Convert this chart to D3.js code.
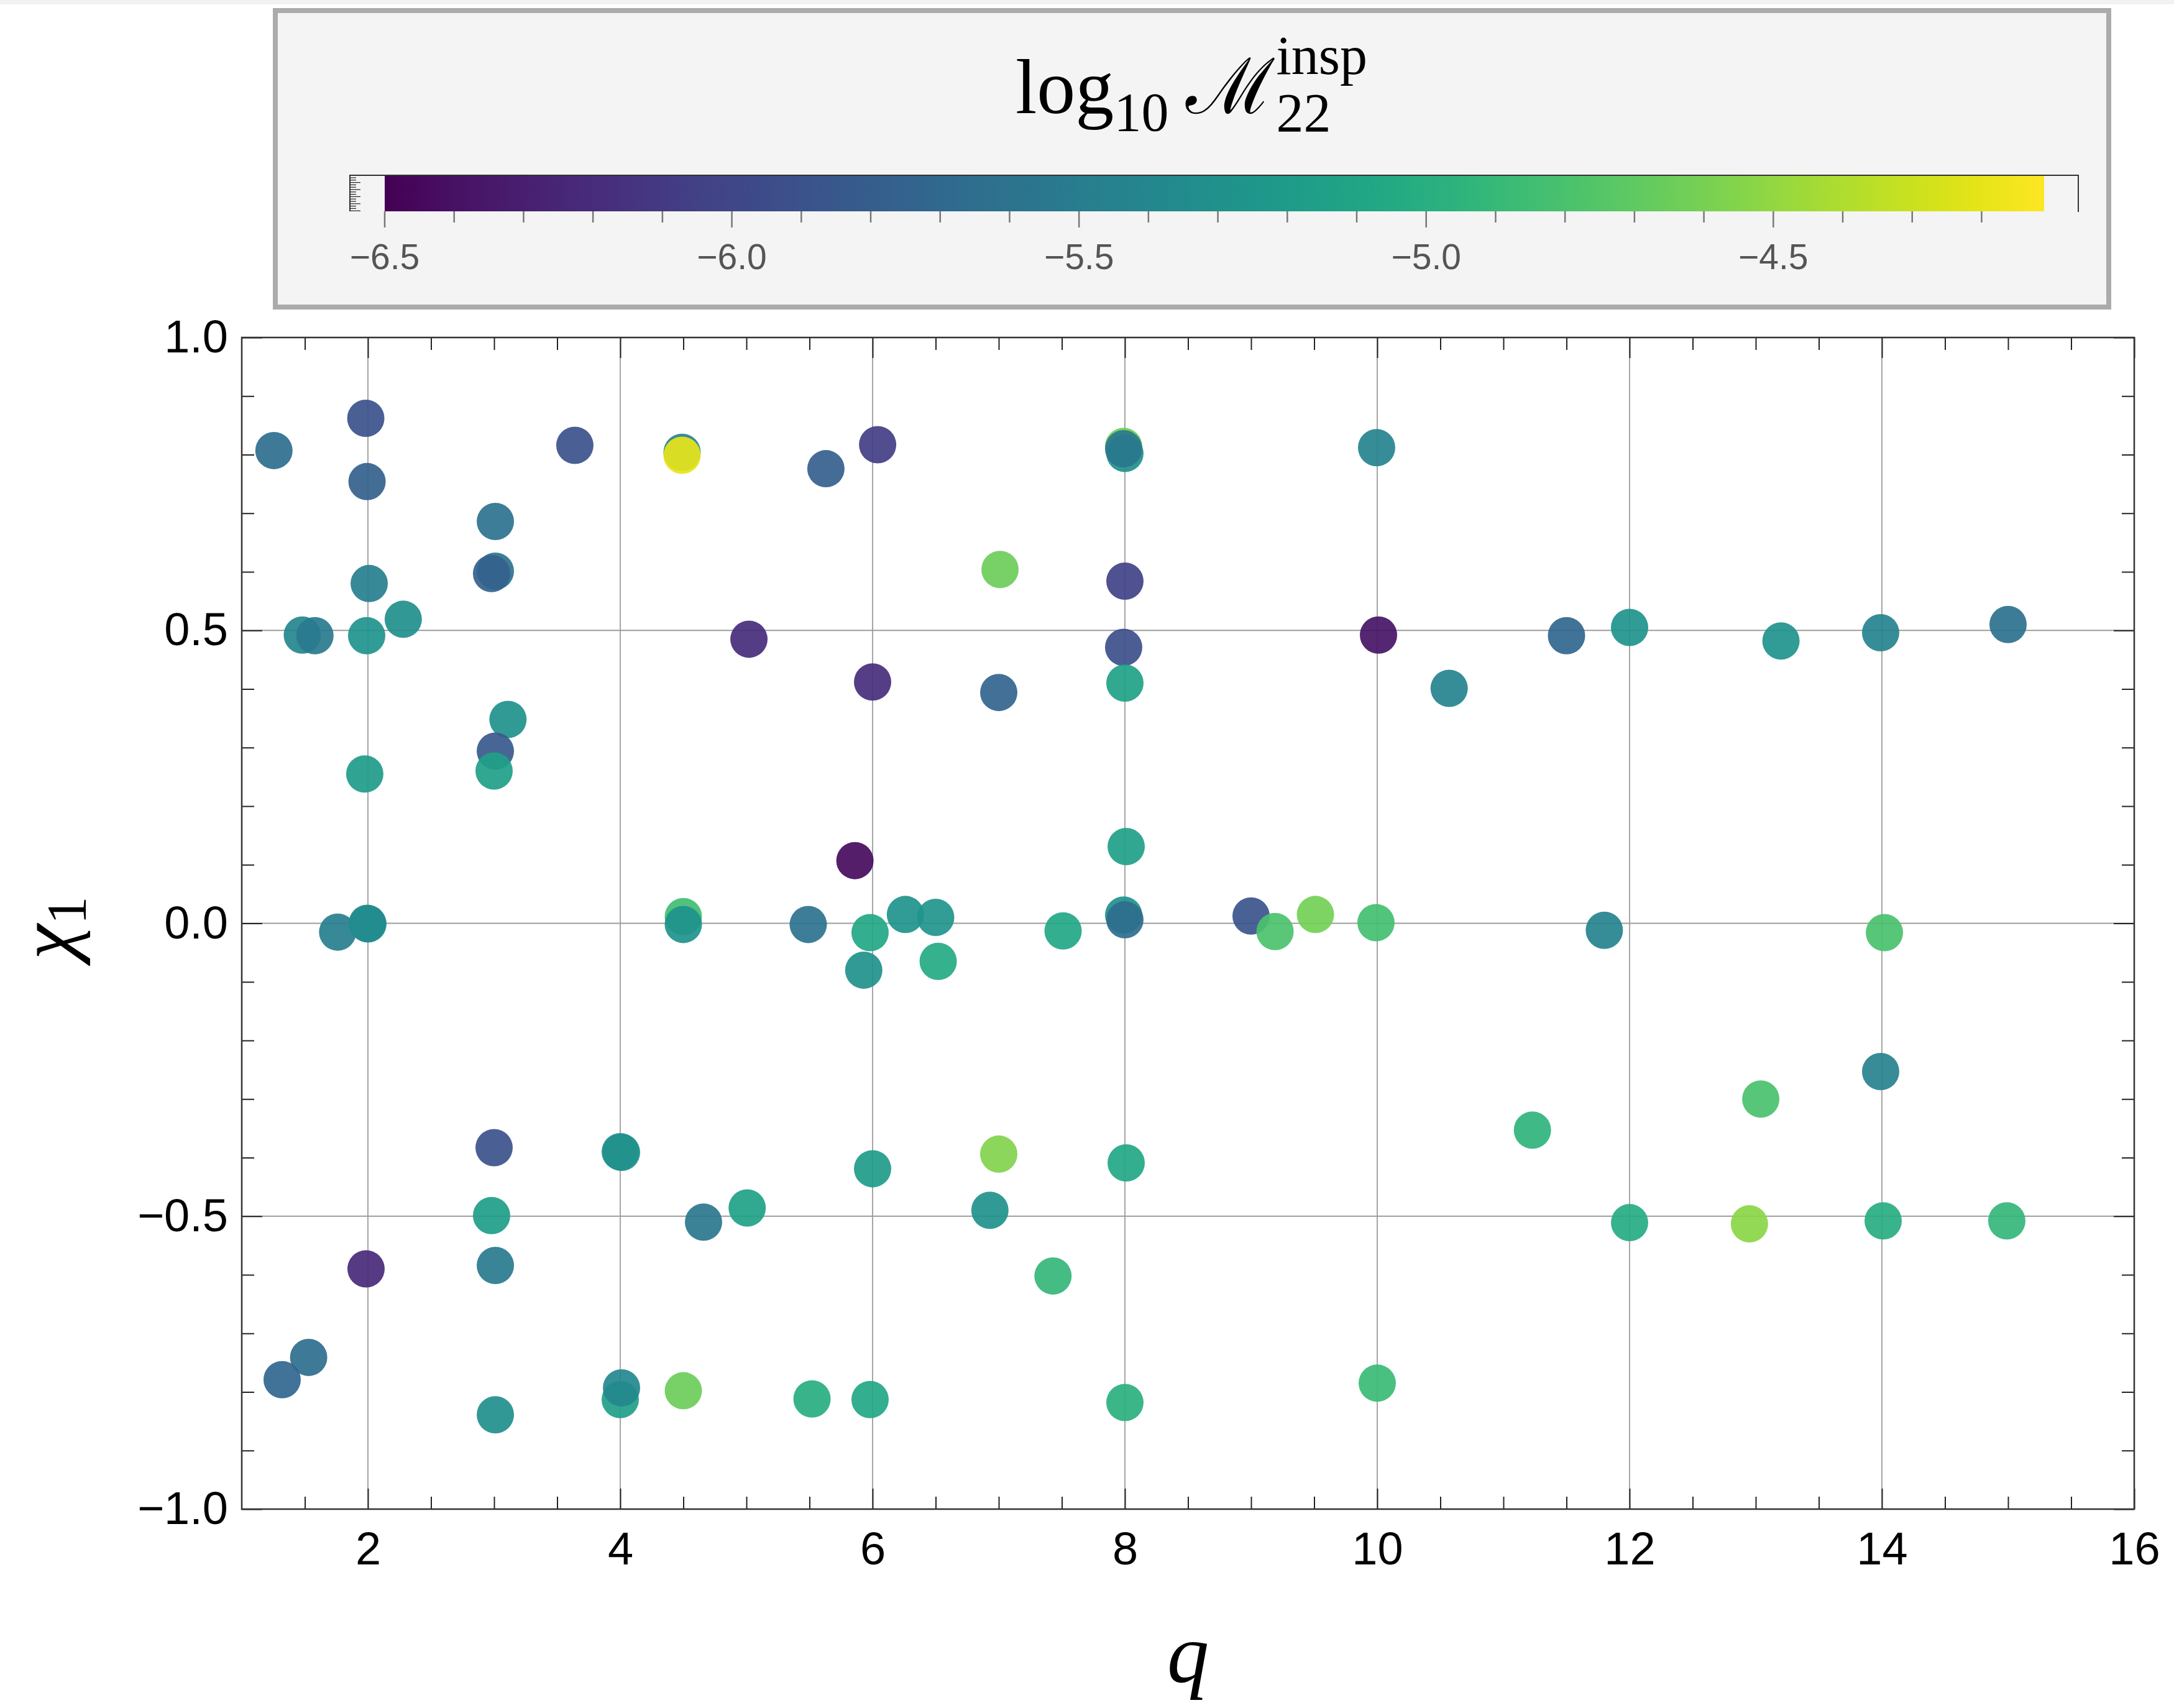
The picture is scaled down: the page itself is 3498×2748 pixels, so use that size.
<!DOCTYPE html>
<html>
<head>
<meta charset="utf-8">
<script src="https://cdn.jsdelivr.net/npm/d3@7"></script>
<style>
  body { margin: 0; background: #fff; }
  svg { display: block; }
</style>
</head>
<body>
<script>
// mass ratio q, spin chi_1 and log10 of the inspiral mismatch
const qValues = [
  1.255, 1.983, 1.993, 3.64, 4.49, 4.49, 5.63, 6.04, 7.99, 8.0, 7.99, 9.995,
  3.01, 3.01, 2.98, 2.01, 1.48, 1.58, 1.99, 2.28, 7.01, 8.0, 5.02, 10.01,
  11.5, 12.0, 13.2, 13.99, 15.0, 6.0, 7.0, 7.99, 8.0, 10.57, 3.11, 3.01,
  3.0, 1.975, 5.86, 8.01, 1.76, 1.995, 2.0, 4.5, 4.5, 5.49, 5.98, 6.26,
  6.5, 5.93, 6.52, 7.51, 7.99, 8.0, 9.0, 9.19, 9.51, 9.99, 11.8, 14.02,
  13.99, 13.04, 11.23, 3.0, 4.0, 4.01, 6.0, 7.0, 8.01, 2.98, 4.66, 5.006,
  6.93, 12.0, 12.95, 14.01, 14.99, 1.985, 3.01, 7.43, 1.53, 1.32, 4.0, 4.01,
  4.5, 3.01, 5.52, 5.98, 8.0, 10.0
];
const chiValues = [
  0.807, 0.862, 0.754, 0.816, 0.804, 0.799, 0.776, 0.817, 0.814, 0.802, 0.810, 0.812,
  0.686, 0.601, 0.597, 0.580, 0.492, 0.491, 0.491, 0.519, 0.604, 0.584, 0.485, 0.492,
  0.491, 0.505, 0.482, 0.496, 0.510, 0.412, 0.394, 0.471, 0.410, 0.401, 0.348, 0.294,
  0.260, 0.255, 0.107, 0.131, -0.015, 0.0, -0.001, 0.0115, -0.002, -0.002, -0.016, 0.015,
  0.010, -0.080, -0.065, -0.013, 0.014, 0.006, 0.0125, -0.014, 0.015, 0.001, -0.012, -0.016,
  -0.253, -0.300, -0.353, -0.383, -0.390, -0.391, -0.419, -0.394, -0.409, -0.499, -0.510, -0.486,
  -0.490, -0.511, -0.513, -0.508, -0.508, -0.590, -0.584, -0.602, -0.741, -0.779, -0.813, -0.793,
  -0.798, -0.839, -0.812, -0.813, -0.818, -0.785
];
const logM = [
  -5.65, -5.91, -5.77, -5.91, -5.45, -4.20, -5.79, -6.07, -4.65, -5.32, -5.55, -5.43,
  -5.60, -5.60, -5.76, -5.48, -5.40, -5.52, -5.27, -5.32, -4.65, -6.03, -6.20, -6.38,
  -5.72, -5.27, -5.27, -5.43, -5.62, -6.19, -5.74, -5.93, -5.13, -5.43, -5.30, -5.84,
  -5.15, -5.20, -6.43, -5.15, -5.48, -5.36, -5.36, -4.84, -5.27, -5.60, -5.08, -5.27,
  -5.25, -5.30, -5.05, -5.08, -5.30, -5.65, -5.88, -4.79, -4.62, -4.82, -5.43, -4.80,
  -5.45, -4.80, -4.95, -5.90, -5.35, -5.30, -5.20, -4.56, -5.08, -5.18, -5.55, -5.13,
  -5.30, -5.03, -4.53, -5.01, -4.92, -6.22, -5.52, -4.92, -5.65, -5.72, -5.15, -5.38,
  -4.65, -5.32, -5.00, -5.08, -4.98, -4.87
];

const xTicks = [2, 4, 6, 8, 10, 12, 14, 16];
const yTicks = [-1, -0.5, 0, 0.5, 1];
const cbTicks = [-6.5, -6.0, -5.5, -5.0, -4.5];
const cbDomain = [-6.5, -4.11];

const width = 3498, height = 2748;
const plot = { left: 389, right: 3434, top: 543, bottom: 2428 };

const svg = d3.select('body')
  .append('svg')
  .attr('width', width)
  .attr('height', height);

svg.append('rect')
  .attr('width', width).attr('height', 7)
  .attr('fill', '#f2f2f2');

const x = d3.scaleLinear().domain([1, 16]).range([plot.left, plot.right]);
const y = d3.scaleLinear().domain([-1, 1]).range([plot.bottom, plot.top]);
const color = d3.scaleSequential(d3.interpolateViridis).domain(cbDomain);

const xMinor = d3.range(3, 32).map(i => i / 2).filter(v => v % 2 !== 0);
const yMinor = d3.range(-9, 10).map(i => i / 10).filter(v => Math.abs(v * 2 - Math.round(v * 2)) > 1e-6);

// grid
svg.append('g').selectAll('line')
  .data(xTicks.filter(d => d < 16))
  .enter().append('line')
  .attr('x1', d => x(d)).attr('x2', d => x(d))
  .attr('y1', plot.top).attr('y2', plot.bottom)
  .attr('stroke', '#9c9c9c').attr('stroke-width', 1.8);

svg.append('g').selectAll('line')
  .data([-0.5, 0, 0.5])
  .enter().append('line')
  .attr('y1', d => y(d)).attr('y2', d => y(d))
  .attr('x1', plot.left).attr('x2', plot.right)
  .attr('stroke', '#9c9c9c').attr('stroke-width', 1.8);

// axes, ticks pointing inside on all four sides
function styleAxis(g) {
  g.select('.domain').remove();
  g.selectAll('.tick line').attr('stroke', '#222').attr('stroke-width', 2);
  g.selectAll('.tick text')
    .attr('fill', '#000')
    .style('font-family', '"Liberation Sans", Arial, sans-serif')
    .style('font-size', '74px');
}

const fmt = d3.format('.1f');

svg.append('g')
  .attr('transform', `translate(0, ${plot.bottom})`)
  .call(d3.axisBottom(x).tickValues(xTicks).tickSize(-33).tickPadding(36).tickFormat(d3.format('d')))
  .call(styleAxis);
svg.append('g')
  .attr('transform', `translate(0, ${plot.bottom})`)
  .call(d3.axisBottom(x).tickValues(xMinor).tickSize(-20).tickFormat(''))
  .call(styleAxis);
svg.append('g')
  .attr('transform', `translate(0, ${plot.top})`)
  .call(d3.axisTop(x).tickValues(xTicks).tickSize(-33).tickFormat(''))
  .call(styleAxis);
svg.append('g')
  .attr('transform', `translate(0, ${plot.top})`)
  .call(d3.axisTop(x).tickValues(xMinor).tickSize(-20).tickFormat(''))
  .call(styleAxis);

svg.append('g')
  .attr('transform', `translate(${plot.left}, 0)`)
  .call(d3.axisLeft(y).tickValues(yTicks).tickSize(-33).tickPadding(22).tickFormat(fmt))
  .call(styleAxis);
svg.append('g')
  .attr('transform', `translate(${plot.left}, 0)`)
  .call(d3.axisLeft(y).tickValues(yMinor).tickSize(-20).tickFormat(''))
  .call(styleAxis);
svg.append('g')
  .attr('transform', `translate(${plot.right}, 0)`)
  .call(d3.axisRight(y).tickValues(yTicks).tickSize(-33).tickFormat(''))
  .call(styleAxis);
svg.append('g')
  .attr('transform', `translate(${plot.right}, 0)`)
  .call(d3.axisRight(y).tickValues(yMinor).tickSize(-20).tickFormat(''))
  .call(styleAxis);

svg.append('rect')
  .attr('x', plot.left).attr('y', plot.top)
  .attr('width', plot.right - plot.left).attr('height', plot.bottom - plot.top)
  .attr('fill', 'none').attr('stroke', '#333').attr('stroke-width', 2.5);

// points
svg.append('g').selectAll('circle')
  .data(qValues.map((q, i) => ({ q, chi: chiValues[i], m: logM[i] })))
  .enter().append('circle')
  .attr('cx', d => x(d.q))
  .attr('cy', d => y(d.chi))
  .attr('r', 30)
  .attr('fill', d => color(d.m))
  .attr('fill-opacity', 0.92);

// axis labels
svg.append('text')
  .attr('x', (plot.left + plot.right) / 2).attr('y', 2706)
  .attr('text-anchor', 'middle')
  .style('font-family', '"Liberation Serif", "Times New Roman", serif')
  .style('font-style', 'italic')
  .style('font-size', '135px')
  .text('q');

const yLab = svg.append('text')
  .attr('transform', 'translate(118, 1493) rotate(-90)')
  .attr('text-anchor', 'middle')
  .style('font-family', '"Liberation Serif", "Times New Roman", serif')
  .style('font-size', '128px');
yLab.append('tspan').style('font-style', 'italic').text('χ');
yLab.append('tspan').attr('dy', 20).style('font-size', '90px').text('1');

// colour bar legend
const legend = svg.append('g');
legend.append('rect')
  .attr('x', 443).attr('y', 17)
  .attr('width', 2950).attr('height', 477)
  .attr('fill', '#f4f4f4')
  .attr('stroke', '#ababab').attr('stroke-width', 8);

const cx = d3.scaleLinear().domain(cbDomain).range([619, 3289]);

const grad = svg.append('defs').append('linearGradient')
  .attr('id', 'viridis').attr('x1', '0%').attr('x2', '100%');
grad.selectAll('stop')
  .data(d3.range(0, 1.0001, 0.02))
  .enter().append('stop')
  .attr('offset', d => `${d * 100}%`)
  .attr('stop-color', d => d3.interpolateViridis(d));

const barTop = 282, barBottom = 340;
legend.append('rect')
  .attr('x', cx(cbDomain[0])).attr('y', barTop)
  .attr('width', cx(cbDomain[1]) - cx(cbDomain[0])).attr('height', barBottom - barTop)
  .attr('fill', 'url(#viridis)');

legend.append('path')
  .attr('d', `M563,${barBottom}V${barTop}H3344V${barBottom + 1}`)
  .attr('fill', 'none').attr('stroke', '#333').attr('stroke-width', 2);

legend.append('g').selectAll('line')
  .data(d3.range(0, 15))
  .enter().append('line')
  .attr('x1', 563).attr('x2', (d, i) => i % 3 === 2 ? 580 : 573)
  .attr('y1', d => barTop + 4 + d * 3.8).attr('y2', d => barTop + 4 + d * 3.8)
  .attr('stroke', '#222').attr('stroke-width', 1.2);

const cbMinor = d3.range(-64, -41).map(i => i / 10).filter(v => Math.abs(v * 2 - Math.round(v * 2)) > 1e-6);

legend.append('g').selectAll('line')
  .data(cbMinor)
  .enter().append('line')
  .attr('x1', d => cx(d)).attr('x2', d => cx(d))
  .attr('y1', barBottom).attr('y2', 358)
  .attr('stroke', '#777').attr('stroke-width', 2.5);

legend.append('g').selectAll('line')
  .data(cbTicks)
  .enter().append('line')
  .attr('x1', d => cx(d)).attr('x2', d => cx(d))
  .attr('y1', barBottom).attr('y2', 366)
  .attr('stroke', '#777').attr('stroke-width', 2.5);

legend.append('g').selectAll('text')
  .data(cbTicks)
  .enter().append('text')
  .attr('x', d => cx(d)).attr('y', 433)
  .attr('text-anchor', 'middle')
  .attr('fill', '#555')
  .style('font-family', '"Liberation Sans", Arial, sans-serif')
  .style('font-size', '57px')
  .text(d => fmt(d));

// title: log10 M_22^insp
const titleG = legend.append('g');
const serif = '"Liberation Serif", "DejaVu Serif", serif';
const t1 = titleG.append('text')
  .attr('x', 0).attr('y', 182)
  .style('font-family', serif)
  .style('font-size', '124px');
t1.append('tspan').text('log');
t1.append('tspan').attr('dy', 28).style('font-size', '88px').text('10');
t1.append('tspan').attr('dy', -28).attr('dx', 28).text('ℳ');
const mEnd = t1.node().getComputedTextLength() + 28;
titleG.append('text')
  .attr('x', mEnd + 2).attr('y', 211)
  .style('font-family', serif).style('font-size', '88px')
  .text('22');
titleG.append('text')
  .attr('x', mEnd + 2).attr('y', 119)
  .style('font-family', serif).style('font-size', '88px')
  .text('insp');
const tb = titleG.node().getBBox();
titleG.attr('transform', `translate(${1917 - (tb.x + tb.width / 2)}, 0)`);
</script>
</body>
</html>
